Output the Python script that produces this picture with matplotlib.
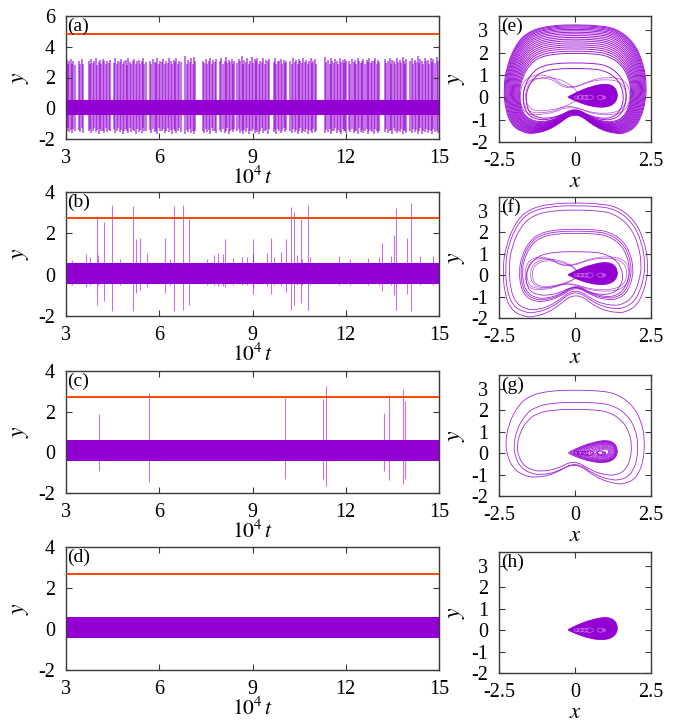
import matplotlib
matplotlib.use('Agg')
import matplotlib.pyplot as plt
import matplotlib.transforms as mtransforms
import numpy as np
from matplotlib.path import Path
from matplotlib.patches import PathPatch, Ellipse

plt.rcParams['font.family'] = ['Liberation Serif', 'DejaVu Serif']
plt.rcParams['mathtext.fontset'] = 'stix'
plt.rcParams['axes.unicode_minus'] = False

VIOLET = '#9400d3'
ORANGE = '#ff4500'
FRAME = '#3a3a3a'

# -- time series (left column) -- #
T_RANGE = [3, 15]
BAND_LO = [-0.44, -0.45, -0.42, -0.42]
BAND_HI = [0.55, 0.55, 0.60, 0.60]
THRESH = [4.8, 2.73, 2.70, 2.68]
YLIM_TS = [(-2, 6), (-2, 4), (-2, 4), (-2, 4)]
YTICKS_TS = [[-2, 0, 2, 4, 6], [-2, 0, 2, 4], [-2, 0, 2, 4], [-2, 0, 2, 4]]

# panel (a): bursts of large excursions, one list per burst
A_T = [
    [3.02, 3.06, 3.11, 3.15, 3.20, 3.24, 3.28],
    [3.41, 3.45, 3.50, 3.55],
    [3.73, 3.77, 3.82, 3.86, 3.91, 3.96, 4.00, 4.05, 4.09, 4.14, 4.19, 4.23, 4.28, 4.33, 4.37, 4.41],
    [4.55, 4.59, 4.64, 4.68, 4.73, 4.78, 4.82, 4.87, 4.92, 4.96, 5.01, 5.05, 5.10, 5.15, 5.19, 5.24, 5.27],
    [5.34, 5.38, 5.43, 5.48, 5.52, 5.57],
    [5.71, 5.75, 5.80, 5.85, 5.89, 5.94, 5.99, 6.02],
    [6.09, 6.13, 6.18, 6.23, 6.27, 6.32, 6.37, 6.41, 6.46, 6.51, 6.55, 6.60, 6.64, 6.69],
    [6.84, 6.88, 6.93, 6.98, 7.02, 7.07, 7.12, 7.16],
    [7.41, 7.45, 7.50, 7.55, 7.59, 7.64, 7.69, 7.73, 7.78, 7.83],
    [7.96, 8.00, 8.05, 8.10, 8.14, 8.19, 8.24, 8.28, 8.33, 8.38, 8.42],
    [8.51, 8.55, 8.60, 8.65, 8.69, 8.74, 8.79, 8.83, 8.88, 8.93, 8.97, 9.02, 9.07, 9.11, 9.16, 9.21,
     9.25, 9.30, 9.35, 9.39, 9.44, 9.49, 9.53],
    [9.68, 9.72, 9.77, 9.82, 9.86, 9.91, 9.96, 10.00, 10.05, 10.09],
    [10.22, 10.26, 10.31, 10.36, 10.40, 10.45, 10.50, 10.54, 10.59, 10.64, 10.68, 10.73, 10.78, 10.82,
     10.87, 10.92, 10.96, 11.01, 11.05],
    [11.34, 11.38, 11.43, 11.48, 11.52, 11.57, 11.62, 11.66, 11.71, 11.76, 11.80, 11.85, 11.90, 11.94,
     11.99, 12.02],
    [12.11, 12.15, 12.20, 12.25, 12.29, 12.34, 12.39, 12.43, 12.48, 12.53, 12.57, 12.62, 12.67, 12.71,
     12.76, 12.81, 12.85, 12.90, 12.95, 12.99, 13.04, 13.08],
    [13.27, 13.31, 13.36, 13.41, 13.45, 13.50, 13.55, 13.59, 13.64, 13.69, 13.73, 13.78, 13.83, 13.87,
     13.92, 13.95],
    [14.08, 14.12, 14.17, 14.22, 14.26, 14.31, 14.36, 14.40, 14.45, 14.50, 14.54, 14.59, 14.64, 14.68,
     14.73, 14.78, 14.82, 14.87, 14.92, 14.96],
]
A_TOP = [
    [3.15, 2.85, 3.05, 3.20, 2.90, 3.10, 2.80],
    [3.05, 2.90, 3.20, 2.85],
    [3.10, 2.85, 3.20, 2.95, 3.05, 3.25, 2.80, 3.00, 3.15, 2.90, 3.20, 3.05, 2.85, 3.10, 2.95, 3.15],
    [2.95, 3.30, 2.85, 3.10, 3.00, 3.20, 2.90, 3.05, 3.15, 2.80, 3.25, 3.00, 2.90, 3.10, 3.20, 2.85, 3.05],
    [3.15, 2.90, 3.05, 3.25, 2.85, 3.00],
    [3.10, 2.85, 3.20, 3.00, 2.95, 3.30, 2.90, 3.05],
    [3.00, 3.20, 2.85, 3.10, 2.95, 3.25, 3.05, 2.90, 3.15, 3.00, 3.30, 2.85, 3.10, 3.00],
    [3.40, 2.90, 3.15, 3.00, 3.25, 2.85, 3.35, 3.05],
    [3.10, 2.95, 3.20, 2.85, 3.05, 3.30, 2.90, 3.15, 3.00, 3.20],
    [3.05, 3.25, 2.90, 3.10, 3.35, 2.95, 3.15, 3.00, 3.20, 2.85, 3.10],
    [2.95, 3.20, 3.05, 3.40, 2.90, 3.15, 3.00, 3.25, 2.85, 3.10, 3.35, 2.95, 3.20, 3.05, 3.30, 2.90,
     3.10, 3.00, 3.25, 2.85, 3.15, 3.05, 3.20],
    [3.00, 3.25, 2.90, 3.10, 3.05, 3.20, 2.85, 3.15, 2.95, 3.05],
    [3.10, 2.90, 3.25, 3.00, 3.15, 2.85, 3.20, 3.05, 2.95, 3.30, 3.00, 3.15, 2.90, 3.10, 3.25, 2.95,
     3.05, 3.20, 2.90],
    [3.35, 3.00, 3.15, 2.90, 3.25, 3.05, 2.95, 3.20, 3.10, 2.85, 3.30, 3.00, 3.15, 2.95, 3.20, 3.05],
    [3.10, 2.90, 3.20, 3.00, 3.15, 2.85, 3.25, 3.05, 2.95, 3.10, 3.20, 2.90, 3.15, 3.00, 3.30, 2.95,
     3.10, 3.05, 3.25, 2.90, 3.15, 3.00],
    [3.20, 2.95, 3.10, 3.30, 2.90, 3.15, 3.05, 2.85, 3.25, 3.00, 3.15, 2.95, 3.35, 3.05, 2.90, 3.20],
    [3.05, 3.25, 2.90, 3.15, 3.00, 3.40, 2.95, 3.20, 3.10, 2.85, 3.25, 3.05, 3.15, 2.90, 3.30, 3.00,
     3.20, 2.95, 3.35, 3.10],
]
A_BOT = [
    [-1.45, -1.30, -1.55, -1.40, -1.60, -1.35, -1.50],
    [-1.40, -1.55, -1.30, -1.60],
    [-1.50, -1.35, -1.60, -1.45, -1.30, -1.55, -1.40, -1.65, -1.35, -1.50, -1.45, -1.60, -1.30, -1.55,
     -1.40, -1.50],
    [-1.35, -1.60, -1.45, -1.30, -1.55, -1.40, -1.65, -1.50, -1.35, -1.45, -1.60, -1.30, -1.55, -1.40,
     -1.50, -1.65, -1.35],
    [-1.55, -1.40, -1.60, -1.30, -1.50, -1.45],
    [-1.40, -1.60, -1.35, -1.55, -1.45, -1.65, -1.30, -1.50],
    [-1.50, -1.35, -1.60, -1.45, -1.30, -1.55, -1.40, -1.65, -1.35, -1.50, -1.60, -1.45, -1.30, -1.55],
    [-1.65, -1.40, -1.55, -1.35, -1.60, -1.45, -1.70, -1.50],
    [-1.45, -1.60, -1.35, -1.55, -1.40, -1.65, -1.30, -1.50, -1.45, -1.60],
    [-1.40, -1.55, -1.35, -1.60, -1.45, -1.30, -1.65, -1.50, -1.40, -1.55, -1.35],
    [-1.50, -1.35, -1.60, -1.45, -1.70, -1.40, -1.55, -1.30, -1.65, -1.45, -1.50, -1.35, -1.60, -1.40,
     -1.55, -1.70, -1.45, -1.30, -1.60, -1.50, -1.40, -1.65, -1.35],
    [-1.55, -1.40, -1.65, -1.35, -1.50, -1.60, -1.45, -1.30, -1.55, -1.40],
    [-1.45, -1.60, -1.35, -1.55, -1.40, -1.65, -1.50, -1.30, -1.60, -1.45, -1.55, -1.35, -1.70, -1.40,
     -1.50, -1.60, -1.35, -1.55, -1.45],
    [-1.60, -1.40, -1.55, -1.35, -1.65, -1.45, -1.50, -1.30, -1.60, -1.40, -1.55, -1.70, -1.35, -1.50,
     -1.45, -1.60],
    [-1.40, -1.55, -1.35, -1.60, -1.45, -1.50, -1.65, -1.30, -1.55, -1.40, -1.60, -1.45, -1.35, -1.70,
     -1.50, -1.40, -1.55, -1.65, -1.35, -1.45, -1.60, -1.50],
    [-1.55, -1.35, -1.60, -1.45, -1.40, -1.65, -1.30, -1.50, -1.60, -1.45, -1.55, -1.35, -1.70, -1.40,
     -1.50, -1.60],
    [-1.45, -1.60, -1.35, -1.55, -1.40, -1.70, -1.50, -1.30, -1.65, -1.45, -1.55, -1.35, -1.60, -1.40,
     -1.50, -1.65, -1.35, -1.55, -1.45, -1.60],
]

# panel (b): isolated excursions
B_T = [3.20, 3.64, 3.78, 3.99, 4.02, 4.22, 4.49, 4.75, 5.17, 5.25, 5.38, 5.60, 6.20, 6.35, 6.49, 6.78,
       6.95, 7.53, 7.76, 7.90, 8.06, 8.11, 8.38, 8.65, 8.81, 9.01, 9.03, 9.46, 9.60, 9.69, 9.91, 10.07,
       10.23, 10.35, 10.42, 10.55, 10.58, 10.78, 10.85, 11.79, 12.14, 12.73, 13.08, 13.16, 13.45, 13.55,
       13.62, 13.96, 14.09, 14.39, 14.82]
B_TOP = [0.70, 1.00, 0.87, 2.83, 0.95, 2.56, 3.37, 0.78, 3.32, 1.72, 1.78, 1.07, 1.78, 0.78, 3.33, 3.37,
         2.69, 0.78, 0.94, 1.07, 1.02, 1.72, 0.81, 0.86, 0.86, 1.02, 1.75, 1.07, 1.78, 0.86, 1.10, 1.75,
         3.28, 3.04, 0.97, 2.69, 0.78, 3.37, 0.86, 0.89, 0.78, 0.81, 0.86, 1.55, 0.89, 1.91, 3.24, 1.78,
         3.45, 0.89, 0.89]
B_BOT = [-0.50, -0.60, -0.52, -1.46, -0.50, -1.29, -1.78, -0.50, -1.76, -0.89, -0.76, -0.60, -0.89,
         -0.50, -1.76, -1.73, -1.49, -0.50, -0.50, -0.55, -0.55, -0.60, -0.50, -0.50, -0.50, -0.60,
         -0.92, -0.55, -0.92, -0.50, -0.55, -0.84, -1.73, -1.46, -0.50, -1.36, -0.50, -1.73, -0.50,
         -0.50, -0.50, -0.50, -0.50, -0.81, -0.50, -0.97, -1.70, -0.92, -1.78, -0.50, -0.50]

# panel (c): rare excursions
C_T = [4.05, 5.66, 10.03, 11.27, 11.36, 13.24, 13.40, 13.85, 13.92]
C_TOP = [1.90, 2.92, 2.66, 2.63, 3.27, 1.93, 2.84, 3.11, 2.54]
C_BOT = [-0.91, -1.47, -1.31, -1.30, -1.67, -0.94, -1.38, -1.54, -1.31]

# -- phase portraits (right column) -- #
# outline of the largest orbit in (e), traced clockwise from the top
TPL_X = [0.0, 0.80, 1.37, 1.92, 2.25, 2.36, 2.30, 2.18, 2.00, 1.70, 1.37, 0.72, 0.0,
         -0.72, -1.37, -1.75, -2.08, -2.28, -2.35, -2.25, -1.91, -1.47, -0.80]
TPL_Y = [3.26, 3.22, 3.08, 2.50, 1.56, 0.50, -0.30, -0.85, -1.32, -1.58, -1.65, -1.39, -0.60,
         -1.39, -1.65, -1.55, -1.25, -0.60, 0.35, 1.40, 2.47, 3.00, 3.22]

# big orbits per panel: left, right, top, bottom, tilt of the lower half
E_L = [-2.35, -2.32, -2.29, -2.26, -2.23, -2.20, -2.17, -2.14, -2.11, -2.08, -2.05, -2.02, -1.99,
       -1.96, -1.93, -1.90, -1.87, -1.84, -1.72, -1.62]
E_R = [2.36, 2.33, 2.30, 2.27, 2.24, 2.21, 2.18, 2.15, 2.12, 2.09, 2.06, 2.03, 2.00, 1.97, 1.94,
       1.91, 1.88, 1.85, 1.70, 1.60]
E_T = [3.26, 3.22, 3.17, 3.12, 3.06, 3.00, 2.93, 2.86, 2.78, 2.70, 2.62, 2.54, 2.45, 2.36, 2.27,
       2.18, 2.08, 1.98, 1.55, 1.30]
E_B = [-1.65, -1.62, -1.59, -1.56, -1.53, -1.50, -1.47, -1.44, -1.41, -1.38, -1.35, -1.32, -1.29,
       -1.25, -1.22, -1.19, -1.15, -1.11, -1.02, -0.95]
E_TILT = [0.0] * 20

F_L = [-2.38, -2.30, -2.18, -1.84, -1.79, -1.74, -1.62]
F_R = [2.41, 2.31, 2.19, 1.92, 1.86, 1.80, 1.58]
F_T = [3.38, 3.25, 3.05, 2.15, 2.06, 1.96, 1.10]
F_B = [-1.88, -1.69, -1.54, -1.21, -1.13, -1.06, -0.93]
F_TILT = [0.07, 0.07, 0.08, 0.04, 0.04, 0.04, 0.02]

G_L = [-2.29, -2.02, -1.91]
G_R = [2.30, 2.08, 1.87]
G_T = [2.95, 2.38, 2.05]
G_B = [-1.30, -1.14, -0.95]
G_TILT = [-0.11, -0.10, -0.08]

# small loops around the left well (control polygons)
E_LOBE_X = [[0.30, -0.50, -1.62, -1.62, -0.50],
            [-0.20, -0.90, -1.80, -1.80, -0.80, -0.15, 0.80, 1.80, 1.80, 0.80],
            [-0.25, -0.85, -1.70, -1.70, -0.75, -0.20, 0.70, 1.68, 1.68, 0.70]]
E_LOBE_Y = [[0.05, 0.95, 0.80, -0.65, -0.55],
            [0.30, 1.10, 0.85, -0.80, -0.75, -0.35, -0.85, -0.65, 0.80, 0.95],
            [0.28, 0.95, 0.75, -0.70, -0.68, -0.30, -0.78, -0.60, 0.70, 0.85]]
F_LOBE_X = [[0.30, -0.50, -1.40, -1.40, -0.50],
            [0.30, -0.50, -1.46, -1.46, -0.50],
            [-0.30, -0.90, -1.58, -1.58, -0.80, -0.25, 0.70, 1.70, 1.70, 0.70],
            [-0.30, -0.95, -1.64, -1.64, -0.85, -0.25, 0.75, 1.78, 1.78, 0.75]]
F_LOBE_Y = [[0.05, 0.72, 0.60, -0.55, -0.50],
            [0.05, 0.80, 0.66, -0.60, -0.55],
            [0.30, 0.85, 0.65, -0.60, -0.62, -0.30, -0.75, -0.55, 0.70, 0.85],
            [0.32, 0.92, 0.70, -0.66, -0.68, -0.32, -0.82, -0.62, 0.76, 0.92]]

# teardrop around the right well (control polygon)
BLOB_X = [-0.22, 0.60, 1.25, 1.45, 1.20, 0.55, -0.22]
BLOB_Y = [0.06, 0.55, 0.62, 0.05, -0.44, -0.44, -0.03]
G_BLOB_SCALE = [1.0, 0.96, 0.92, 0.88, 0.84, 0.78, 0.72, 0.66, 0.58, 0.50, 0.42, 0.34, 0.26]
SPOT_X = [0.05, 0.18, 0.32, 0.47, 0.85, 0.95]
SPOT_R = [0.08, 0.10, 0.11, 0.13, 0.12, 0.06]

LEFT_BOX = [(66, 16, 139), (66, 192, 316), (66, 371, 493), (66, 547, 670)]
RIGHT_BOX = [(499, 16, 142), (499, 197, 318), (499, 375, 496), (499, 552, 673)]
W, H = 685, 722


def smooth_loop(xs, ys):
    """Closed quadratic B-spline on the control polygon (xs, ys)."""
    pts = np.column_stack([xs, ys])
    mids = (pts + np.roll(pts, -1, axis=0)) / 2
    verts = [mids[-1]]
    codes = [Path.MOVETO]
    for p, m in zip(pts, mids):
        verts += [p, m]
        codes += [Path.CURVE3, Path.CURVE3]
    return Path(verts, codes)


def orbit(left, right, top, bottom, tilt):
    """The traced outline stretched into the box of one orbit."""
    tx = np.array(TPL_X)
    ty = np.array(TPL_Y)
    xs = left + (tx - min(TPL_X)) * (right - left) / (max(TPL_X) - min(TPL_X))
    ys = bottom + (ty - min(TPL_Y)) * (top - bottom) / (max(TPL_Y) - min(TPL_Y))
    ys = np.where(ty < 0, ys + tilt * xs, ys)
    return smooth_loop(xs, ys)


def style_axes(ax):
    for s in ax.spines.values():
        s.set_color(FRAME)
        s.set_linewidth(1.0)
    ax.tick_params(direction='in', length=4, width=0.8, color=FRAME, top=True, right=True,
                   labelsize=14.5)
    ax.tick_params(axis='x', pad=7)
    ax.tick_params(axis='y', pad=8)


def time_series(ax, i, t=None, top=None, bot=None, label='', lw=0.8, alpha=0.55):
    ax.fill_between(T_RANGE, BAND_LO[i], BAND_HI[i], color=VIOLET, lw=0, zorder=2)
    if t is not None:
        ax.vlines(t, bot, top, color=VIOLET, lw=lw, alpha=alpha, zorder=1)
    ax.axhline(THRESH[i], color=ORANGE, lw=1.4, zorder=3)
    ax.set_xlim(T_RANGE)
    ax.set_ylim(YLIM_TS[i])
    ax.set_xticks([3, 6, 9, 12, 15])
    ax.set_yticks(YTICKS_TS[i])
    ax.set_xlabel(r'$10^4\,t$', fontsize=15.5, labelpad=-1)
    ax.set_ylabel(r'$y$', fontsize=17, labelpad=5)
    ax.text(0.003, 0.99, label, transform=ax.transAxes, ha='left', va='top', fontsize=14)
    style_axes(ax)


def phase(ax, label):
    ax.set_xlim(-2.5, 2.5)
    ax.set_ylim(-2, 3.65)
    ax.set_xticks([-2.5, 0, 2.5])
    ax.set_xticklabels(['-2.5', '0', '2.5'])
    ax.set_yticks([-2, -1, 0, 1, 2, 3])
    ax.set_xlabel(r'$x$', fontsize=16.5, labelpad=0)
    ax.set_ylabel(r'$y$', fontsize=17, labelpad=3)
    ax.text(0.012, 0.99, label, transform=ax.transAxes, ha='left', va='top', fontsize=14)
    style_axes(ax)


def draw_orbits(ax, ls, rs, ts, bs, tilts, lw=0.6, alpha=0.85):
    for box in zip(ls, rs, ts, bs, tilts):
        ax.add_patch(PathPatch(orbit(*box), fc='none', ec=VIOLET, lw=lw, alpha=alpha))


def draw_polys(ax, xs_list, ys_list, lw=0.5, alpha=0.7):
    for xs, ys in zip(xs_list, ys_list):
        ax.add_patch(PathPatch(smooth_loop(xs, ys), fc='none', ec=VIOLET, lw=lw, alpha=alpha))


def draw_blob(ax):
    ax.add_patch(PathPatch(smooth_loop(BLOB_X, BLOB_Y), fc=VIOLET, ec=VIOLET, lw=0.6, zorder=3))
    for x, r in zip(SPOT_X, SPOT_R):
        ax.add_patch(Ellipse((x, 0.0), 2 * r, 1.6 * r, fc='none', ec='white', lw=0.5, alpha=0.45,
                             zorder=4))


def main():
    fig = plt.figure(figsize=(W / 100, H / 100), dpi=100)
    axl = [fig.add_axes([x0 / W, 1 - y1 / H, (439 - x0) / W, (y1 - y0) / H])
           for x0, y0, y1 in LEFT_BOX]
    axr = [fig.add_axes([x0 / W, 1 - y1 / H, (651 - x0) / W, (y1 - y0) / H])
           for x0, y0, y1 in RIGHT_BOX]

    time_series(axl[0], 0, sum(A_T, []), sum(A_TOP, []), sum(A_BOT, []), '(a)', lw=1.3, alpha=0.6)
    time_series(axl[1], 1, B_T, B_TOP, B_BOT, '(b)')
    time_series(axl[2], 2, C_T, C_TOP, C_BOT, '(c)')
    time_series(axl[3], 3, label='(d)')

    # (e)
    draw_orbits(axr[0], E_L, E_R, E_T, E_B, E_TILT, lw=0.7, alpha=0.9)
    draw_polys(axr[0], E_LOBE_X, E_LOBE_Y)
    draw_blob(axr[0])
    phase(axr[0], '(e)')
    # (f)
    draw_orbits(axr[1], F_L, F_R, F_T, F_B, F_TILT)
    draw_polys(axr[1], F_LOBE_X, F_LOBE_Y)
    draw_blob(axr[1])
    phase(axr[1], '(f)')
    # (g)
    draw_orbits(axr[2], G_L, G_R, G_T, G_B, G_TILT)
    blob = smooth_loop(BLOB_X, BLOB_Y)
    for s in G_BLOB_SCALE:
        tr = mtransforms.Affine2D().translate(-1.0, -0.05).scale(s).translate(1.0, 0.05)
        axr[2].add_patch(PathPatch(blob.transformed(tr), fc='none', ec=VIOLET, lw=0.5))
    for x, r in zip(SPOT_X, SPOT_R):
        axr[2].add_patch(Ellipse((x, 0.0), 2 * r, 1.6 * r, fc='none', ec=VIOLET, lw=0.6))
    phase(axr[2], '(g)')
    # (h)
    draw_blob(axr[3])
    phase(axr[3], '(h)')

    fig.savefig('out.png', dpi=100)


if __name__ == '__main__':
    main()
